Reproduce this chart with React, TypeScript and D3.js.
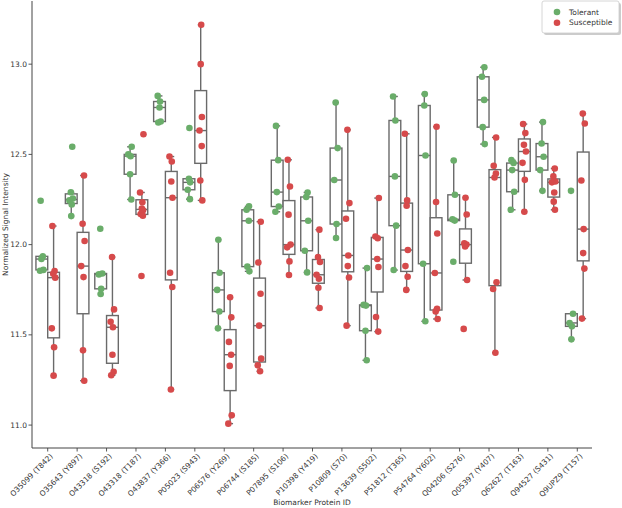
import React from "react";
import * as d3 from "d3";

const categories = [
  "O35099 (T842)", "O35643 (Y897)", "O43318 (S192)", "O43318 (T187)", "O43837 (Y366)",
  "P05023 (S943)", "P06576 (Y269)", "P06744 (S185)", "P07895 (S106)", "P10398 (Y419)",
  "P10809 (S70)", "P13639 (S502)", "P51812 (T365)", "P54764 (Y602)", "Q04206 (S276)",
  "Q05397 (Y407)", "Q62627 (T163)", "Q94527 (S431)", "Q9UPZ9 (T157)",
];

const tolerant: number[][] = [
  [12.243, 11.935, 11.92, 11.86, 11.855],
  [12.542, 12.29, 12.255, 12.245, 12.222, 12.158],
  [12.088, 11.84, 11.835, 11.755, 11.726],
  [12.542, 12.50, 12.49, 12.39, 12.25],
  [12.824, 12.793, 12.76, 12.682, 12.677],
  [12.646, 12.365, 12.345, 12.304, 12.252],
  [12.027, 11.844, 11.749, 11.629, 11.536],
  [12.212, 12.193, 12.132, 11.878, 11.852],
  [12.658, 12.468, 12.291, 12.211, 12.182],
  [12.289, 12.264, 12.132, 11.966, 11.846],
  [12.787, 12.535, 12.358, 12.114, 12.037],
  [11.87, 11.666, 11.662, 11.523, 11.359],
  [12.821, 12.688, 12.378, 12.105, 11.859],
  [12.834, 12.771, 12.494, 11.894, 11.575],
  [12.466, 12.276, 12.14, 12.133, 11.905],
  [12.983, 12.93, 12.802, 12.651, 12.557],
  [12.468, 12.452, 12.413, 12.293, 12.193],
  [12.679, 12.56, 12.487, 12.413, 12.298],
  [12.298, 11.617, 11.566, 11.547, 11.475],
];

const susceptible: number[][] = [
  [12.103, 11.854, 11.839, 11.817, 11.536, 11.431, 11.274],
  [12.383, 12.116, 12.02, 11.881, 11.82, 11.414, 11.246],
  [11.931, 11.641, 11.573, 11.542, 11.39, 11.295, 11.276],
  [12.612, 12.289, 12.235, 12.20, 12.19, 12.17, 12.16, 11.826],
  [12.488, 12.461, 12.35, 12.26, 11.844, 11.765, 11.197],
  [13.218, 13.0, 12.707, 12.632, 12.546, 12.355, 12.245],
  [11.708, 11.597, 11.461, 11.39, 11.328, 11.054, 11.008],
  [12.127, 11.901, 11.728, 11.551, 11.368, 11.331, 11.298],
  [12.47, 12.322, 12.166, 12.0, 11.985, 11.907, 11.832],
  [12.083, 11.931, 11.904, 11.833, 11.811, 11.761, 11.649],
  [12.636, 12.23, 12.143, 11.94, 11.881, 11.818, 11.551],
  [12.258, 12.045, 12.035, 11.92, 11.876, 11.599, 11.518],
  [12.614, 12.245, 12.215, 11.97, 11.881, 11.822, 11.749],
  [12.653, 12.236, 12.062, 11.843, 11.645, 11.63, 11.588],
  [12.26, 12.167, 12.007, 12.0, 11.99, 11.804, 11.533],
  [12.594, 12.437, 12.394, 12.372, 11.791, 11.754, 11.401],
  [12.668, 12.618, 12.553, 12.516, 12.453, 12.359, 12.182],
  [12.422, 12.378, 12.35, 12.345, 12.289, 12.238, 12.193],
  [12.726, 12.671, 12.355, 12.086, 11.953, 11.867, 11.59],
];

const yTicks = [11.0, 11.5, 12.0, 12.5, 13.0];
const seriesNames = ["Tolerant", "Susceptible"];
const seriesColors = ["#6aad6a", "#d64a4b"];

const W = 622;
const H = 508;
const left = 32;
const right = 592;
const top = 1;
const bottom = 448;
const font = "DejaVu Sans, sans-serif";
const boxStroke = "#6a6a6a";

function stats(vals: number[]) {
  const s = [...vals].sort(d3.ascending);
  const q1 = d3.quantile(s, 0.25)!;
  const med = d3.quantile(s, 0.5)!;
  const q3 = d3.quantile(s, 0.75)!;
  const iqr = q3 - q1;
  const lo = s.filter((v) => v >= q1 - 1.5 * iqr);
  const hi = s.filter((v) => v <= q3 + 1.5 * iqr);
  return { q1, med, q3, wlo: d3.min(lo)!, whi: d3.max(hi)! };
}

const jitter = [-1.2, 1.0, -0.4, 1.6, -1.8, 0.5, 0.0, 1.2];

export default function App() {
  const x = d3.scaleLinear().domain([-0.5, categories.length - 0.5]).range([left + 1, right]);
  const y = d3.scaleLinear().domain([10.873, 13.35]).range([bottom, top]);
  const band = x(1) - x(0);
  const boxW = band * 0.4;
  const offsets = [-0.2, 0.2];

  const groups = [tolerant, susceptible];

  return (
    <svg width={W} height={H} style={{ display: "block", position: "absolute", left: 0, top: 0 }}>
      <rect x={0} y={0} width={W} height={H} fill="#fff" />
      {/* boxes */}
      {categories.map((c, i) =>
        groups.map((g, gi) => {
          const st = stats(g[i]);
          const cx = x(i + offsets[gi]);
          const capW = boxW * 0.25;
          return (
            <g key={`b-${i}-${gi}`} stroke={boxStroke} strokeWidth={1.4} fill="none">
              <line x1={cx} x2={cx} y1={y(st.q3)} y2={y(st.whi)} />
              <line x1={cx} x2={cx} y1={y(st.q1)} y2={y(st.wlo)} />
              <line x1={cx - capW} x2={cx + capW} y1={y(st.whi)} y2={y(st.whi)} />
              <line x1={cx - capW} x2={cx + capW} y1={y(st.wlo)} y2={y(st.wlo)} />
              <rect x={cx - boxW / 2} y={y(st.q3)} width={boxW} height={y(st.q1) - y(st.q3)} fill="#fff" />
              <line x1={cx - boxW / 2} x2={cx + boxW / 2} y1={y(st.med)} y2={y(st.med)} />
            </g>
          );
        })
      )}
      {/* points */}
      {categories.map((c, i) =>
        groups.map((g, gi) =>
          g[i].map((v, k) => (
            <circle
              key={`p-${i}-${gi}-${k}`}
              cx={x(i + offsets[gi]) + jitter[(k + i) % jitter.length]}
              cy={y(v)}
              r={3.3}
              fill={seriesColors[gi]}
            />
          ))
        )
      )}
      {/* axes */}
      <line x1={left} x2={left} y1={top} y2={bottom} stroke="#444" strokeWidth={1} />
      <line x1={left} x2={right} y1={bottom} y2={bottom} stroke="#444" strokeWidth={1} />
      {yTicks.map((t) => (
        <g key={`yt-${t}`}>
          <line x1={left - 3.5} x2={left} y1={y(t)} y2={y(t)} stroke="#444" strokeWidth={0.9} />
          <text x={left - 5} y={y(t)} dy="0.35em" textAnchor="end" fontSize={7.5} fontFamily={font} fill="#333">
            {t.toFixed(1)}
          </text>
        </g>
      ))}
      {categories.map((c, i) => (
        <g key={`xt-${i}`}>
          <line x1={x(i)} x2={x(i)} y1={bottom} y2={bottom + 3.5} stroke="#444" strokeWidth={0.9} />
          <text
            transform={`translate(${x(i) + 2},${bottom + 5}) rotate(-45)`}
            textAnchor="end"
            dy="0.7em"
            fontSize={7.5}
            fontFamily={font}
            fill="#333"
          >
            {c}
          </text>
        </g>
      ))}
      <text x={(left + right) / 2} y={505} textAnchor="middle" fontSize={7.5} fontFamily={font} fill="#333">
        Biomarker Protein ID
      </text>
      <text
        transform={`translate(8,${(top + bottom) / 2}) rotate(-90)`}
        textAnchor="middle"
        fontSize={7.5}
        fontFamily={font}
        fill="#333"
      >
        Normalized Signal Intensity
      </text>
      {/* legend */}
      <g>
        <rect x={544} y={3} width={77} height={32} rx={2} fill="#999" opacity={0.5} />
        <rect x={542} y={1} width={77} height={32} rx={2} fill="#fff" stroke="#ccc" strokeWidth={0.8} />
        {seriesNames.map((n, i) => (
          <g key={`lg-${n}`}>
            <circle cx={557} cy={12 + i * 10.7} r={3.3} fill={seriesColors[i]} />
            <text x={569} y={12 + i * 10.7} dy="0.35em" fontSize={7.5} fontFamily={font} fill="#333">
              {n}
            </text>
          </g>
        ))}
      </g>
    </svg>
  );
}
